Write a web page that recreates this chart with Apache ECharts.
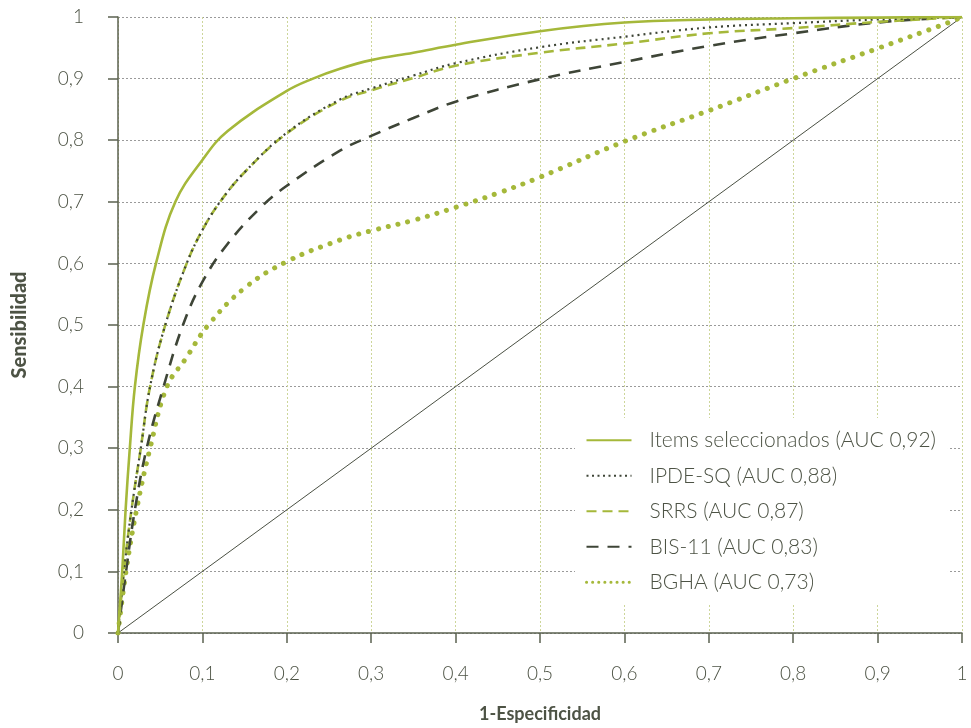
<!DOCTYPE html>
<html>
<head>
<meta charset="utf-8">
<script src="https://cdn.jsdelivr.net/npm/echarts@6/dist/echarts.min.js"></script>
<style>html,body{margin:0;padding:0;background:#fff}#c{width:971px;height:728px}</style>
</head>
<body>
<div id="c"></div>
<script>
const seriesNames = ['Items seleccionados (AUC 0,92)','IPDE-SQ (AUC 0,88)','SRRS (AUC 0,87)','BIS-11 (AUC 0,83)','BGHA (AUC 0,73)'];
const itemsData = [[0,0],[0.005,0.1],[0.009,0.2],[0.014,0.3],[0.02,0.4],[0.03,0.5],[0.045,0.6],[0.068,0.7],[0.1,0.768],[0.13,0.815],[0.2,0.88],[0.231,0.9],[0.263,0.916],[0.3,0.93],[0.35,0.942],[0.4,0.955],[0.5,0.977],[0.6,0.991],[0.7,0.996],[0.8,0.998],[0.9,0.999],[1,1]];
const ipdeData = [[0,0],[0.007,0.1],[0.016,0.2],[0.027,0.3],[0.038,0.4],[0.056,0.5],[0.0814,0.6],[0.1,0.654],[0.121,0.7],[0.15,0.748],[0.2,0.812],[0.263,0.866],[0.3,0.884],[0.35,0.905],[0.4,0.925],[0.5,0.951],[0.6,0.968],[0.7,0.983],[0.8,0.99],[0.9,0.996],[1,1]];
const srrsData = [[0,0],[0.007,0.1],[0.016,0.2],[0.027,0.3],[0.038,0.4],[0.056,0.5],[0.0814,0.6],[0.1,0.654],[0.121,0.7],[0.15,0.748],[0.2,0.811],[0.263,0.864],[0.3,0.881],[0.35,0.901],[0.4,0.921],[0.5,0.942],[0.6,0.957],[0.7,0.9735],[0.8,0.982],[0.9,0.992],[1,1]];
const bisData = [[0,0],[0.0095,0.1],[0.02,0.2],[0.034,0.3],[0.054,0.4],[0.077,0.5],[0.1,0.57],[0.13,0.632],[0.17,0.692],[0.2,0.726],[0.263,0.783],[0.3,0.807],[0.35,0.836],[0.4,0.8625],[0.5,0.899],[0.6,0.927],[0.7,0.953],[0.8,0.9735],[0.9,0.991],[1,1]];
const bghaData = [[0,0],[0.0095,0.1],[0.022,0.2],[0.038,0.3],[0.058,0.4],[0.08,0.445],[0.107,0.5],[0.15,0.56],[0.2,0.603],[0.263,0.638],[0.3,0.653],[0.35,0.67],[0.4,0.691],[0.45,0.714],[0.5,0.74],[0.6,0.798],[0.7,0.848],[0.8,0.9],[0.9,0.949],[0.984,0.991],[1,1]];
const diagData = [[0,0],[1,1]];
const xTickLabels = ['0','0,1','0,2','0,3','0,4','0,5','0,6','0,7','0,8','0,9','1'];
const yTickLabels = ['0','0,1','0,2','0,3','0,4','0,5','0,6','0,7','0,8','0,9','1'];

const green = '#a5b83a';
const dark = '#3e4537';
const textCol = '#4d5345';
const axisCol = '#5b6150';
const font = 'Lato';

const chart = echarts.init(document.getElementById('c'), null, {renderer:'canvas'});
function fmt(labels){ return v => labels[Math.round(v*10)] ?? ''; }
const legendLine = {
  [seriesNames[1]]: {width:2.2,type:[2,3.5]},
  [seriesNames[4]]: {width:3,type:[0.1,6],cap:'round'}
};
const sm = 0.4;
chart.setOption({
  backgroundColor:'#fff',
  animation:false,
  grid:{left:118,right:9,top:17,bottom:95,containLabel:false,outerBoundsMode:'none'},
  legend:{
    show:true, orient:'vertical', left:575, top:418, padding:[10,12,10,10],
    itemWidth:45, itemHeight:14, itemGap:11,
    data:seriesNames.map(n => legendLine[n] ? {name:n, lineStyle:legendLine[n]} : {name:n}),
    itemStyle:{opacity:0},
    textStyle:{color:textCol,fontFamily:font,fontSize:21,fontWeight:300,lineHeight:24.5,padding:[0,0,0,13]},
    backgroundColor:'#fff'
  },
  xAxis:{
    type:'value',min:0,max:1,interval:0.1,
    name:'1-Especificidad',nameLocation:'middle',nameGap:72,
    nameTextStyle:{color:textCol,fontFamily:font,fontSize:18,fontWeight:'bold'},
    axisLine:{onZero:false,lineStyle:{color:axisCol,width:1.5}},
    axisTick:{show:true,length:10,lineStyle:{color:axisCol,width:1.5}},
    axisLabel:{color:textCol,fontFamily:font,fontSize:19,fontWeight:300,margin:31,formatter:fmt(xTickLabels)},
    splitLine:{show:true,lineStyle:{color:'#cdd69a',type:[2,2],width:1}}
  },
  yAxis:{
    type:'value',min:0,max:1,interval:0.1,
    name:'Sensibilidad',nameLocation:'middle',nameGap:88,nameRotate:90,
    nameTextStyle:{color:textCol,fontFamily:font,fontSize:20,fontWeight:900},
    axisLine:{show:true,onZero:false,lineStyle:{color:axisCol,width:1.5}},
    axisTick:{show:true,length:10,lineStyle:{color:axisCol,width:1.5}},
    axisLabel:{color:textCol,fontFamily:font,fontSize:19,fontWeight:300,margin:34,formatter:fmt(yTickLabels)},
    splitLine:{show:true,lineStyle:{color:'#9a9a9a',type:[2,2],width:1}}
  },
  series:[
    {name:'diag',type:'line',data:diagData,showSymbol:false,symbol:'none',silent:true,z:1,
      lineStyle:{color:'#4a5043',width:1}},
    {name:seriesNames[4],type:'line',data:bghaData,symbol:'none',smooth:sm,z:2,
      lineStyle:{color:green,width:5,type:[0.1,10],cap:'round'},itemStyle:{color:green}},
    {name:seriesNames[3],type:'line',data:bisData,symbol:'none',smooth:sm,z:3,
      lineStyle:{color:dark,width:2.6,type:[12,9]},itemStyle:{color:dark}},
    {name:seriesNames[2],type:'line',data:srrsData,symbol:'none',smooth:sm,z:4,
      lineStyle:{color:green,width:2.6,type:[10,6]},itemStyle:{color:green}},
    {name:seriesNames[1],type:'line',data:ipdeData,symbol:'none',smooth:sm,z:5,
      lineStyle:{color:dark,width:2.2,type:[2,4]},itemStyle:{color:dark}},
    {name:seriesNames[0],type:'line',data:itemsData,symbol:'none',smooth:sm,z:6,
      lineStyle:{color:green,width:2.6},itemStyle:{color:green}}
  ]
});
</script>
</body>
</html>
